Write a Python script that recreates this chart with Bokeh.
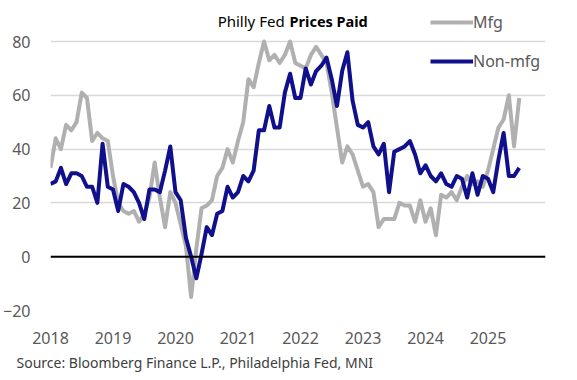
from bokeh.plotting import figure
from bokeh.models import (ColumnDataSource, Label, Legend, LegendItem, Span,
                          FixedTicker, Range1d, Title)
from bokeh.embed import file_html
from bokeh.resources import INLINE

# ---- data (monthly, Jan 2018 .. Jul 2025) ----
start_year = 2018
mfg = [
    33, 44, 40, 49, 47, 50, 61, 59, 43, 46, 44, 43,      # 2018
    30, 20, 17, 16, 17, 13, 16, 22, 35, 22, 11, 24,      # 2019
    20, 12, 4, -15, 3, 18, 19, 21, 30, 33, 40, 35,       # 2020
    43, 50, 66, 63, 72, 80, 73, 75, 72, 75, 80, 72,      # 2021
    71, 70, 75, 78, 75, 72, 61, 48, 35, 41, 38, 32,      # 2022
    26, 27, 24, 11, 14, 14, 14, 20, 19, 19, 13, 21,      # 2023
    13, 18, 8, 23, 22, 24, 21, 26, 30, 27, 28, 26,       # 2024
    32, 40, 48, 51, 60, 41, 59,                          # 2025
]
non_mfg = [
    27, 28, 33, 27, 31, 31, 30, 26, 26, 20, 42, 26,      # 2018
    25, 17, 27, 26, 24, 20, 14, 25, 25, 24, 32, 41,      # 2019
    24, 21, 7, 0, -8, 1, 11, 8, 16, 17, 26, 22,          # 2020
    24, 30, 28, 32, 47, 47, 56, 48, 48, 61, 68, 59,      # 2021
    59, 70, 64, 69, 71, 74, 66, 56, 69, 76, 58, 49,      # 2022
    48, 50, 41, 38, 42, 24, 39, 40, 41, 43, 38, 31,      # 2023
    34, 30, 28, 31, 27, 26, 30, 29, 22, 31, 23, 30,      # 2024
    29, 24, 36, 46, 30, 30, 33,                          # 2025
]
year_ticks = [2018, 2019, 2020, 2021, 2022, 2023, 2024, 2025]
y_ticks = [-20, 0, 20, 40, 60, 80]

x = [start_year + i / 12 for i in range(len(mfg))]
src = ColumnDataSource(dict(x=x, mfg=mfg, non_mfg=non_mfg))

FONT = "Noto Sans"
GREY_TXT = "#595959"
PX_PER_UNIT = 2.69          # vertical scale of the frame (px per index point)
Y_TOP = -20 + 310 / PX_PER_UNIT

p = figure(width=561, height=376, output_backend="svg", toolbar_location=None,
           x_range=Range1d(2018, 2025.92), y_range=Range1d(-20, Y_TOP),
           min_border_left=46, min_border_right=16, min_border_top=0,
           min_border_bottom=66)
p.outline_line_color = None
p.background_fill_color = "white"
p.border_fill_color = "white"

# grid
p.xgrid.visible = False
p.ygrid.ticker = FixedTicker(ticks=y_ticks)
p.ygrid.grid_line_color = "#d9d9d9"
p.ygrid.grid_line_width = 1.5

# axes
for ax in (p.xaxis[0], p.yaxis[0]):
    ax.axis_line_color = None
    ax.major_tick_line_color = None
    ax.minor_tick_line_color = None
    ax.major_label_text_font = FONT
    ax.major_label_text_font_size = "16px"
    ax.major_label_text_color = GREY_TXT
p.xaxis.ticker = FixedTicker(ticks=year_ticks)
p.xaxis.major_label_standoff = 15
p.yaxis.ticker = FixedTicker(ticks=y_ticks)
p.yaxis.major_label_standoff = 14

p.add_layout(Span(location=0, dimension="width", line_color="black", line_width=2))

r_mfg = p.line("x", "mfg", source=src, line_color="#b0b0b0", line_width=4,
               line_join="round")
r_non = p.line("x", "non_mfg", source=src, line_color="#10108c", line_width=4,
               line_join="round")

legend = Legend(items=[LegendItem(label="Mfg", renderers=[r_mfg]),
                       LegendItem(label="Non-mfg", renderers=[r_non])],
                location=(380, 238), orientation="vertical",
                glyph_width=43, glyph_height=20, label_height=20,
                label_standoff=0, spacing=17, padding=0, margin=0,
                background_fill_alpha=0, border_line_color=None,
                label_text_font=FONT, label_text_font_size="16px",
                label_text_color=GREY_TXT)
p.add_layout(legend, "center")

# title (two parts, second bold)
title_y = -20 + (310 - 20) / PX_PER_UNIT
p.add_layout(Label(x=2018 + (282 - 46) / 63, y=title_y,
                   text="Philly Fed", text_font=FONT, text_font_size="15px",
                   text_color="black", text_baseline="middle", text_align="right"))
p.add_layout(Label(x=2018 + (287 - 46) / 63, y=title_y,
                   text="Prices Paid", text_font=FONT, text_font_size="14.5px",
                   text_font_style="bold", text_color="black",
                   text_baseline="middle", text_align="left"))
# source
p.add_layout(Title(text="Source: Bloomberg Finance L.P., Philadelphia Fed, MNI",
                   align="left", offset=-34, standoff=9,
                   text_font=FONT, text_font_size="14px", text_color="#404040",
                   text_font_style="normal"), "below")

open("out.html", "w").write(file_html(p, INLINE))
